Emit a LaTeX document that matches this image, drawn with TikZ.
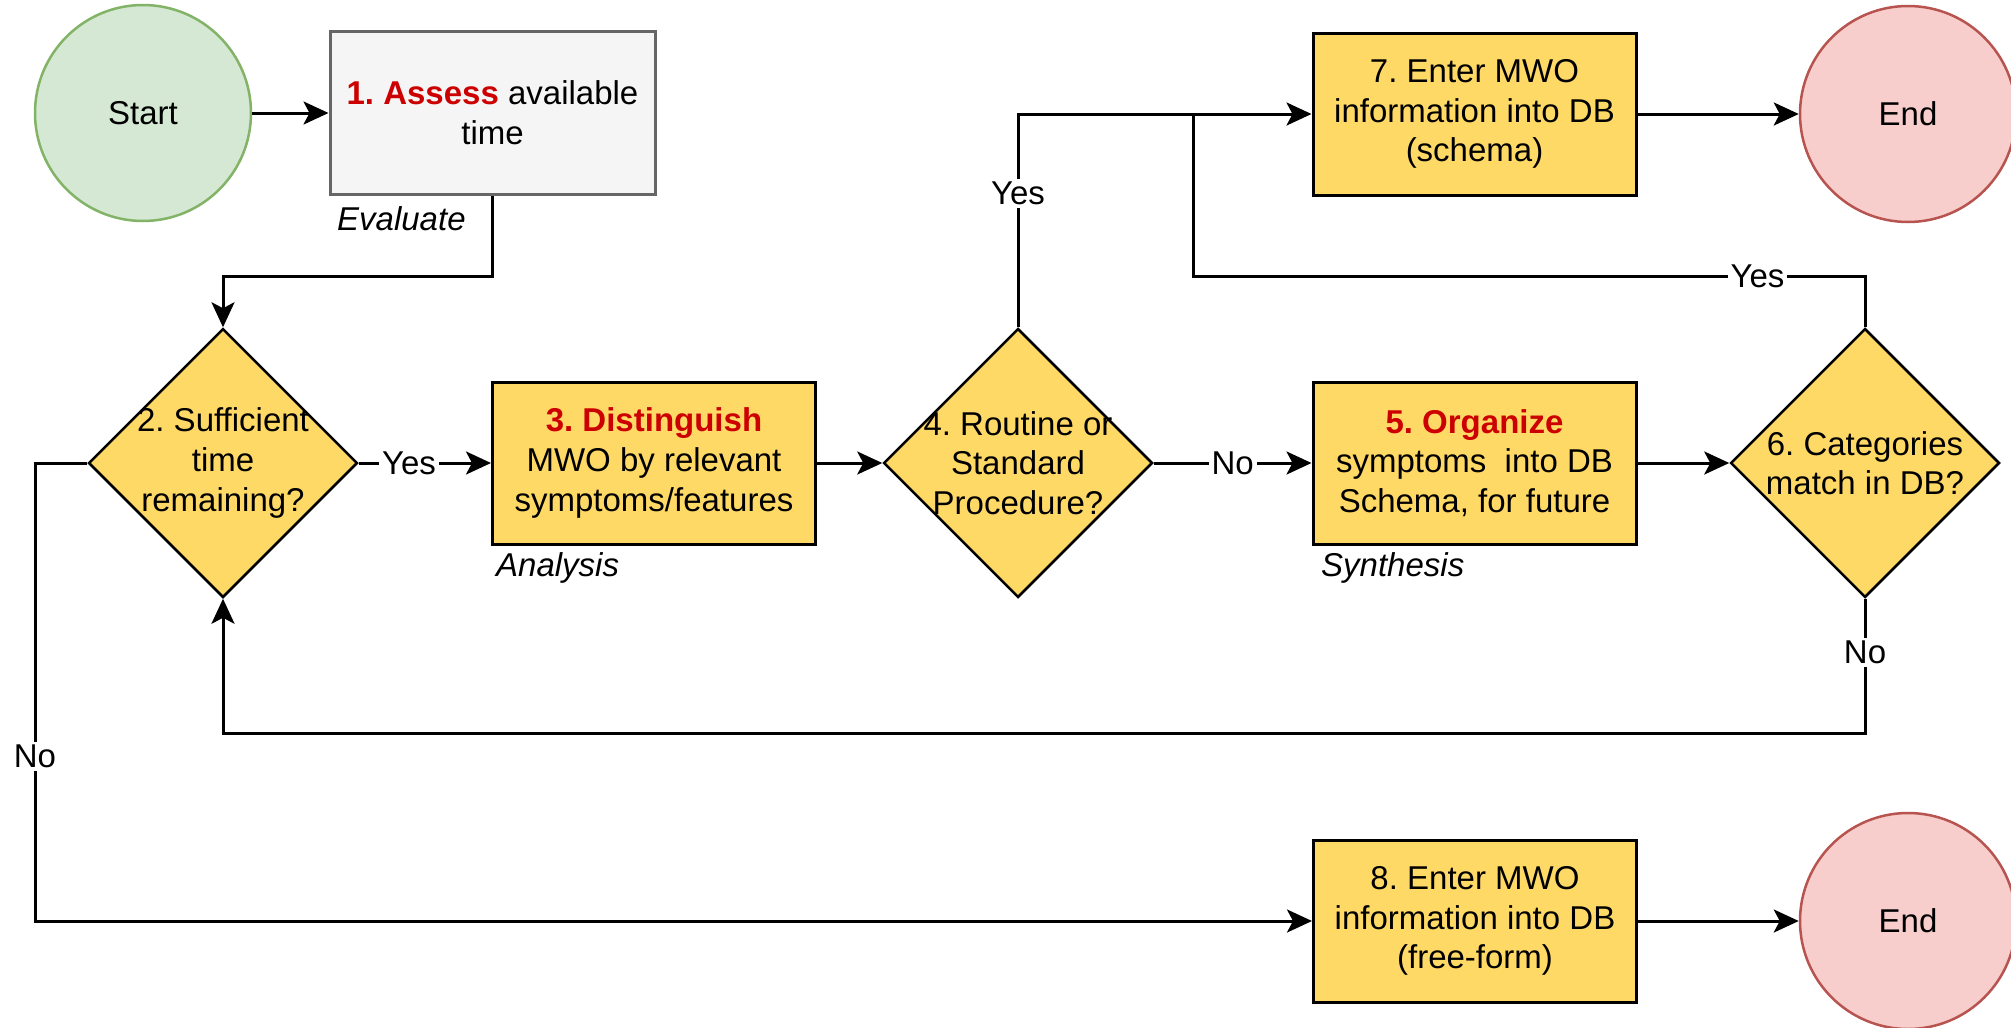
\documentclass[tikz,border=0pt]{standalone}
\usepackage{fontspec}
\setmainfont{Liberation Sans}
\frenchspacing
\usetikzlibrary{arrows.meta,shapes.geometric}
\definecolor{yel}{HTML}{FFD966}
\definecolor{startF}{HTML}{D5E8D4}
\definecolor{startD}{HTML}{82B366}
\definecolor{endF}{HTML}{F8CECC}
\definecolor{endD}{HTML}{B85450}
\definecolor{grayF}{HTML}{F5F5F5}
\definecolor{grayD}{HTML}{666666}
\definecolor{redT}{HTML}{CC0000}
\begin{document}
\begin{tikzpicture}[x=1pt,y=-1pt,
  every node/.style={font=\fontsize{33}{39.6}\selectfont},
  proc/.style={draw=black, fill=yel, line width=3pt, minimum width=323pt, minimum height=162pt, inner sep=0pt, align=center},
  dec/.style={diamond, draw=black, fill=yel, line width=2.5pt, minimum width=269pt, minimum height=269pt, inner sep=0pt},
  dectext/.style={align=center, inner sep=0pt},
  term/.style={circle, minimum size=216pt, line width=2.5pt, inner sep=0pt},
  phase/.style={anchor=west, inner sep=0pt, font=\fontsize{33}{39.6}\selectfont\itshape},
  conn/.style={line width=3pt, -{Stealth[length=25pt,width=23pt,inset=6pt]}},
  plain/.style={line width=3pt},
  lbl/.style={fill=white, inner sep=3pt}
]
\clip (0,0) rectangle (2011,1028);
\fill[white] (0,0) rectangle (2011,1028);

% nodes
\node[term, draw=startD, fill=startF] (start) at (143,113) {Start};
\node[draw=grayD, fill=grayF, line width=3pt, minimum width=325pt, minimum height=163pt, inner sep=0pt, align=center] (b1) at (492.5,113)
  {\textcolor{redT}{\textbf{1. Assess}} available\\time};
\node[phase] (ev) at (337,219) {Evaluate};

\node[dec] (d2) at (223,463) {};
\node[dectext] (d2t) at (d2) {2. Sufficient\\time\\remaining?};

\node[proc] (b3) at (654,463) {\textcolor{redT}{\textbf{3. Distinguish}}\\MWO by relevant\\symptoms/features};
\node[phase] (an) at (496,568) {Analysis};

\node[dec] (d4) at (1018,463) {};
\node[dectext] (d4t) at (d4) {4. Routine or\\Standard\\Procedure?};

\node[proc] (b5) at (1474.5,463) {\textcolor{redT}{\textbf{5. Organize}}\\symptoms\ \ into DB\\Schema, for future};
\node[phase] (syn) at (1321,568) {Synthesis};

\node[dec] (d6) at (1865,463) {};
\node[dectext] (d6t) at (d6) {6. Categories\\match in DB?};

\node[proc] (b7) at (1474.5,114) {7. Enter MWO\\information into DB\\(schema)};
\node[term, draw=endD, fill=endF] (e1) at (1908,114) {End};

\node[proc] (b8) at (1475,921) {8. Enter MWO\\information into DB\\(free-form)};
\node[term, draw=endD, fill=endF] (e2) at (1908,921) {End};

% junction coordinates
\coordinate (j1) at (492.5,276);
\coordinate (j2) at (1193,276);
\coordinate (j3) at (1193,114);
\coordinate (fb) at (223,733);
\coordinate (bl) at (35,921);

% connectors
\draw[conn] (start.east) -- (b1.west);
\draw[conn] (b1.south) -- (j1) -| (d2.north);
\draw[conn] (d2.east) -- node[lbl, pos=0.38] (lyes1) {Yes} (b3.west);
\draw[conn] (b3.east) -- (d4.west);
\draw[conn] (d4.north) |- node[lbl, pos=0.314] (lyes2) {Yes} (b7.west);
\draw[conn] (d4.east) -- node[lbl, pos=0.5] (lno1) {No} (b5.west);
\draw[conn] (b5.east) -- (d6.west);
\draw[plain] (d6.north) |- node[lbl, pos=0.58] (lyes3) {Yes} (j2) -- (j3);
\draw[conn] (d6.south) |- node[lbl, pos=0.2] (lno2) {No} (fb) -- (d2.south);
\draw[conn] (d2.west) -| node[lbl, pos=0.82] (lno3) {No} (bl) -- (b8.west);
\draw[conn] (b7.east) -- (e1.west);
\draw[conn] (b8.east) -- (e2.west);
\end{tikzpicture}
\end{document}
